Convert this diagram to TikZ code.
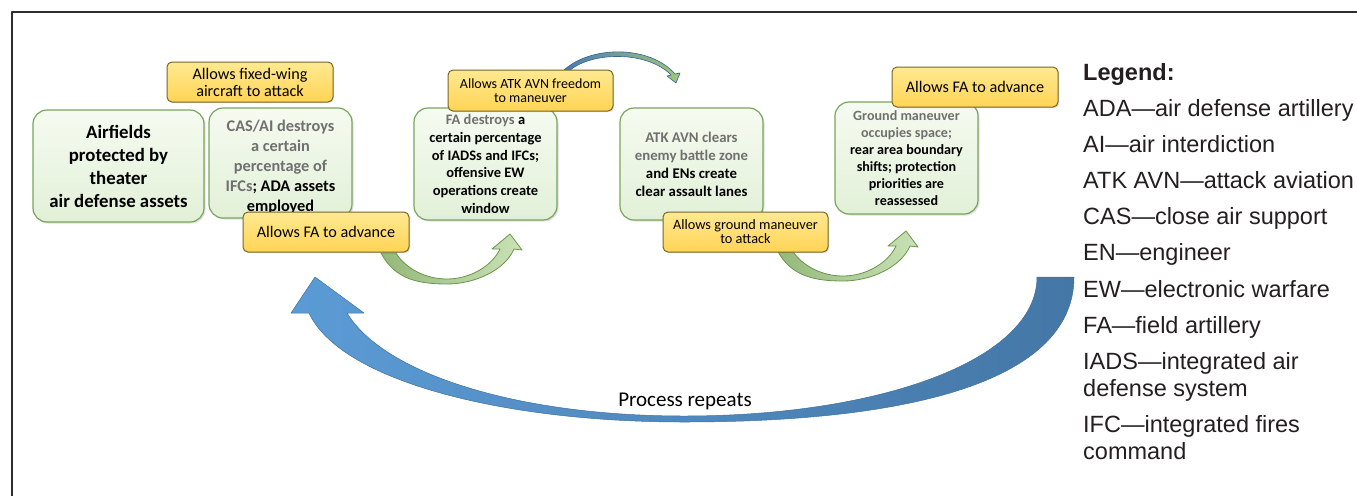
\documentclass[tikz,border=0pt]{standalone}
\usepackage{fontspec}
\setmainfont{Carlito}
\newfontfamily\legendfont{Liberation Sans}
\usetikzlibrary{shadows}

\definecolor{framegray}{RGB}{45,45,45}
\definecolor{boxgreen}{RGB}{122,165,92}
\definecolor{greentop}{RGB}{245,251,240}
\definecolor{greenbot}{RGB}{226,240,216}
\definecolor{boxgray}{RGB}{112,112,112}
\definecolor{yellowtop}{RGB}{255,233,145}
\definecolor{yellowbot}{RGB}{255,212,85}
\definecolor{yellowline}{RGB}{120,102,40}
\definecolor{turnlight}{RGB}{202,226,182}
\definecolor{turndark}{RGB}{148,184,122}
\definecolor{turnline}{RGB}{106,150,76}
\definecolor{repeatlight}{RGB}{91,155,213}
\definecolor{repeatdark}{RGB}{68,119,166}
\definecolor{repeatline}{RGB}{65,113,156}
\definecolor{hopblue}{RGB}{72,122,180}
\definecolor{hopgreen}{RGB}{160,200,120}
\definecolor{legendtext}{RGB}{35,31,32}

\begin{document}
\begin{tikzpicture}[x=1pt, y=-1pt, line join=round,
  greenbox/.style={draw=boxgreen, line width=1.2pt, rounded corners=14pt,
    top color=greentop, bottom color=greenbot, minimum width=143pt,
    minimum height=111pt, inner sep=2pt, align=center,
    drop shadow={opacity=0.25, shadow xshift=1.5pt, shadow yshift=-1.5pt}},
  yellowbox/.style={draw=yellowline, line width=1pt, rounded corners=5pt,
    top color=yellowtop, bottom color=yellowbot, minimum width=166pt,
    minimum height=40pt, inner sep=2pt, align=center,
    drop shadow={opacity=0.25, shadow xshift=1.2pt, shadow yshift=-1.2pt}},
  turnarrow/.style={draw=turnline, line width=0.8pt, left color=turndark, right color=turnlight},
  legendline/.style={anchor=base west, inner sep=0pt, text=legendtext, align=left,
    font=\legendfont\fontsize{23.5}{27}\selectfont}]

  %% frame (only top and left edges show)
  \draw[line width=2.5pt, framegray] (12,496) -- (12,12) -- (1357,12);

  %% big return arrow
  \draw[line width=0.5pt, draw=repeatline, left color=repeatlight, right color=repeatdark]
    (1037,277) -- (1074,277)
    .. controls (1074,378) and (920,422) .. (684,422)
    .. controls (500,422) and (340,380) .. (309,313)
    -- (291,313) -- (315,277) -- (364,313) -- (347,313)
    .. controls (385,375) and (520,416) .. (684,416)
    .. controls (880,416) and (1037,360) .. (1037,277) -- cycle;
  \node[font=\fontsize{21}{25}\selectfont, inner sep=1pt] (repeats) at (685,401) {Process repeats};

  %% green turn arrows
  \draw[turnarrow] (381,253) .. controls (395,280) and (420,284) .. (447,284)
    .. controls (475,284) and (505,270) .. (514,249) -- (522,250) -- (510,234)
    -- (492,249) -- (500,249) .. controls (492,266) and (470,279) .. (447,279)
    .. controls (425,279) and (405,268) .. (396,253) -- cycle;
  \draw[turnarrow] (777,250) .. controls (791,277) and (816,281) .. (843,281)
    .. controls (871,281) and (901,267) .. (910,246) -- (918,247) -- (906,231)
    -- (888,246) -- (896,246) .. controls (888,263) and (866,276) .. (843,276)
    .. controls (821,276) and (801,265) .. (792,250) -- cycle;

  %% small hop arrow over the top
  \draw[line width=0.6pt, draw=hopblue!80!black, left color=hopblue, right color=hopgreen]
    (563,71) .. controls (590,45) and (650,45) .. (675,74) -- (680,73) -- (676,83)
    -- (667,76) -- (671,75) .. controls (648,51) and (592,51) .. (569,71) -- cycle;

  %% step boxes
  \node[greenbox, minimum width=171pt, minimum height=112pt,
        font=\bfseries\fontsize{18.8}{23}\selectfont] (airfields) at (118.5,166)
    {Airfields\\protected by\\theater\\air defense assets};
  \node[greenbox, minimum height=110pt, font=\bfseries\fontsize{16.3}{20}\selectfont] (casai) at (280.5,163)
    {\rule{0pt}{20pt}\textcolor{boxgray}{CAS/AI destroys}\\\textcolor{boxgray}{a certain}\\\textcolor{boxgray}{percentage of}\\\textcolor{boxgray}{IFCs}; ADA assets\\employed};
  \node[greenbox, minimum height=112pt, font=\bfseries\fontsize{14.5}{17.8}\selectfont] (fadestroys) at (485.5,164)
    {\textcolor{boxgray}{FA destroys} a\\certain percentage\\of IADSs and IFCs;\\offensive EW\\operations create\\window};
  \node[greenbox, minimum height=112pt, font=\bfseries\fontsize{14.8}{18}\selectfont] (atkclears) at (691.5,164)
    {\textcolor{boxgray}{ATK AVN clears}\\\textcolor{boxgray}{enemy battle zone}\\and ENs create\\clear assault lanes};
  \node[greenbox, minimum height=112pt, font=\bfseries\fontsize{14.1}{17}\selectfont] (groundocc) at (906.5,158)
    {\textcolor{boxgray}{Ground maneuver}\\\textcolor{boxgray}{occupies space;}\\rear area boundary\\shifts; protection\\priorities are\\reassessed};

  %% enabling effects
  \node[yellowbox, font=\fontsize{16.2}{17}\selectfont] (fixedwing) at (250,82)
    {Allows fixed-wing\\aircraft to attack};
  \node[yellowbox, font=\fontsize{16.2}{18}\selectfont] (faadvance) at (326,232)
    {Allows FA to advance};
  \node[yellowbox, minimum width=165pt, minimum height=41pt, font=\fontsize{14}{14.5}\selectfont] (atkfreedom) at (530.5,90.5)
    {Allows ATK AVN freedom\\to maneuver};
  \node[yellowbox, minimum width=165pt, font=\fontsize{14.3}{14}\selectfont] (groundattack) at (745.5,232)
    {Allows ground maneuver\\to attack};
  \node[yellowbox, font=\fontsize{16.2}{18}\selectfont] (faadvancetwo) at (975,87)
    {Allows FA to advance};

  %% legend (two-line entries sit on their last line)
  \node[legendline, font=\legendfont\bfseries\fontsize{23.5}{27}\selectfont] (legend) at (1083,80) {Legend:};
  \node[legendline] (ada)  at (1083,116) {ADA—air defense artillery};
  \node[legendline] (ai)   at (1083,152) {AI—air interdiction};
  \node[legendline] (atk)  at (1083,188) {ATK AVN—attack aviation};
  \node[legendline] (cas)  at (1083,224) {CAS—close air support};
  \node[legendline] (en)   at (1083,260) {EN—engineer};
  \node[legendline] (ew)   at (1083,297) {EW—electronic warfare};
  \node[legendline] (fa)   at (1083,333) {FA—field artillery};
  \node[legendline] (iads) at (1083,396) {IADS—integrated air\\defense system};
  \node[legendline] (ifc)  at (1083,459) {IFC—integrated fires\\command};

  \pgfresetboundingbox
  \path[use as bounding box] (0,0) rectangle (1357,496);
\end{tikzpicture}
\end{document}
